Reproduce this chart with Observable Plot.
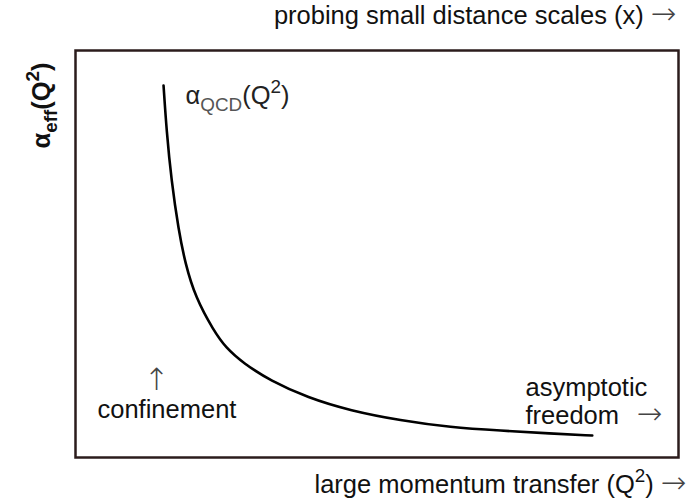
<!DOCTYPE html>
<html>
<head>
<meta charset="utf-8">
<script src="https://cdn.jsdelivr.net/npm/d3@7"></script>
<script src="https://cdn.jsdelivr.net/npm/@observablehq/plot@0.6"></script>
<style>
  html, body { margin: 0; padding: 0; background: #fff; }
</style>
</head>
<body>
<div id="chart"></div>
<script>
// Curve alpha_QCD(Q^2), in arbitrary 0-100 units on both axes (no ticks in original)
const q2 = [14.6, 15.1, 15.9, 17.1, 18.2, 19.9, 22.9, 24.9, 27.9, 32.3, 38.5, 45.6, 53.9, 62.2, 70.5, 78.8, 85.7];
const alpha = [91.4, 80.3, 68.1, 55.8, 47.7, 39.3, 31.2, 27.0, 23.1, 18.9, 14.7, 11.5, 9.1, 7.4, 6.6, 5.9, 5.4];

// Texts
const topLabel = ["probing small distance scales (x) \u2192"];
const bottomLabel = ["large momentum transfer (Q^{2}) \u2192"];
const yLabel = ["\u03b1_{eff}(Q^{2})"];
const curveLabel = ["\u03b1_{QCD}(Q^{2})"];
const confLabel = ["confinement"];
const upArrow = ["\u2191"];
const afLabel1 = ["asymptotic"];
const afLabel2 = ["freedom"];
const rightArrow = ["\u2192"];

const FS = 25.5;
const common = {text: d => d, fontSize: FS, lineAnchor: "bottom", fill: "#111"};

const chart = Plot.plot({
  width: 692,
  height: 501,
  marginTop: 50,
  marginRight: 14,
  marginBottom: 44,
  marginLeft: 75,
  x: {domain: [0, 100], axis: null},
  y: {domain: [0, 100], axis: null},
  style: {fontFamily: "'Liberation Sans', Arial, sans-serif", background: "#fff"},
  marks: [
    Plot.frame({stroke: "#2b1c1c", strokeWidth: 2.5}),
    Plot.line(q2, {x: q2, y: alpha, curve: "basis", stroke: "#000", strokeWidth: 2.6}),
    Plot.text(topLabel, {...common, frameAnchor: "top-right", textAnchor: "end", dx: -2, dy: -27}),
    Plot.text(bottomLabel, {...common, frameAnchor: "bottom-right", textAnchor: "end", dx: 8, dy: 35}),
    Plot.text(yLabel, {...common, fontSize: 33, fontWeight: "bold", frameAnchor: "top-left", textAnchor: "middle", rotate: -90, dx: -26, dy: 55}),
    Plot.text(curveLabel, {...common, fontSize: 30, fill: "#222", frameAnchor: "top-left", textAnchor: "start", dx: 110, dy: 53}),
    Plot.text(confLabel, {...common, frameAnchor: "bottom-left", textAnchor: "start", dx: 22, dy: -40}),
    Plot.text(upArrow, {...common, frameAnchor: "bottom-left", textAnchor: "middle", dx: 81, dy: -68}),
    Plot.text(afLabel1, {...common, frameAnchor: "bottom-left", textAnchor: "start", dx: 450, dy: -62}),
    Plot.text(afLabel2, {...common, frameAnchor: "bottom-left", textAnchor: "start", dx: 450, dy: -34}),
    Plot.text(rightArrow, {...common, frameAnchor: "bottom-left", textAnchor: "end", dx: 587, dy: -34})
  ]
});

// Turn simple markup (_{sub}, ^{sup}) into tspans; arrows drawn in a light DejaVu Sans
d3.select(chart).selectAll("text").each(function() {
  const el = d3.select(this);
  const s = el.text();
  if (!/[_^]\{|[\u2190-\u2193]/.test(s)) return;
  const fs = parseFloat(el.attr("font-size")) || FS;
  const ratio = 0.74;
  el.text(null);
  const re = /([_^])\{([^}]*)\}|([\u2190-\u2193])|([^_^\u2190-\u2193]+)/g;
  let m, shift = 0;
  while ((m = re.exec(s))) {
    let t;
    if (m[1]) {
      const off = m[1] === "_" ? fs * 0.3 : -fs * 0.42;
      t = el.append("tspan").text(m[2]).attr("font-size", fs * ratio).attr("dy", off - shift);
      shift = off;
      if (m[2] === "QCD") t.attr("fill", "#555");
      continue;
    }
    if (m[3]) {
      t = el.append("tspan").text(m[3]).attr("font-family", "'DejaVu Sans'").attr("font-weight", 200)
        .attr("font-size", fs * 1.2).attr("fill", "#444");
    } else {
      t = el.append("tspan").text(m[4]).attr("font-size", fs);
    }
    if (shift !== 0) { t.attr("dy", -shift); shift = 0; }
  }
});

document.getElementById("chart").appendChild(chart);
</script>
</body>
</html>
